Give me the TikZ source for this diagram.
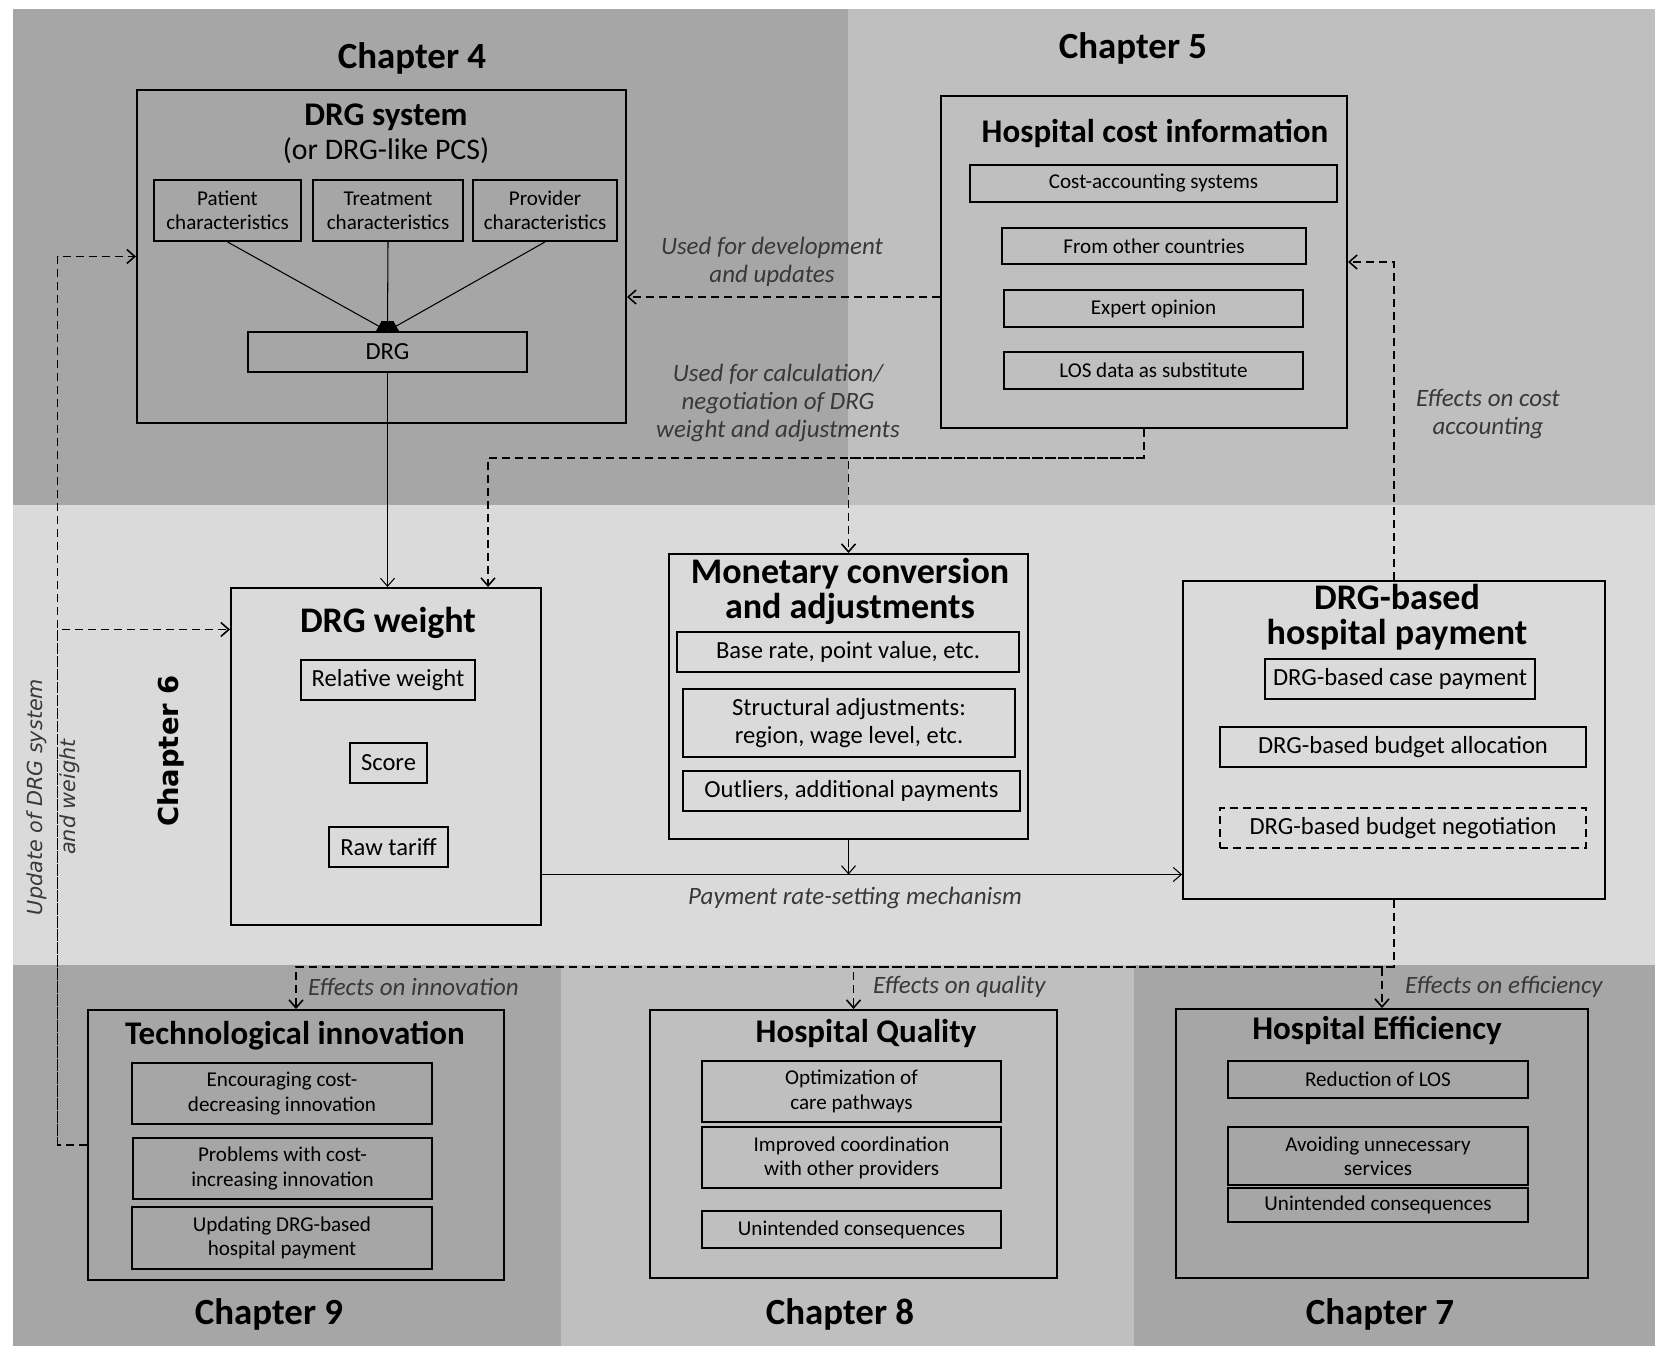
\documentclass[tikz,border=0pt]{standalone}
\usepackage{fontspec}
\setmainfont{Carlito}
\newfontfamily\widefont{DejaVu Sans}
\usetikzlibrary{arrows.meta}
\usetikzlibrary{fit}
\definecolor{bgdark}{gray}{0.65}
\definecolor{bgmid}{gray}{0.75}
\definecolor{bglight}{gray}{0.855}
\definecolor{labelgray}{gray}{0.22}

\tikzset{
  bigbox/.style={draw=black,line width=1.1pt,inner sep=0pt},
  subbox/.style={draw=black,line width=1.1pt,inner sep=0pt},
  smalltext/.style={align=center,font=\fontsize{12}{13.8}\selectfont},
  midtext/.style={align=center,font=\fontsize{14}{16}\selectfont},
  boxtitle/.style={font=\fontsize{18.8}{20}\selectfont\bfseries,align=center},
  bigtitle/.style={font=\fontsize{20.5}{20}\selectfont\bfseries,align=center},
  chapter/.style={font=\fontsize{21}{24}\selectfont\bfseries},
  flowlabel/.style={font=\fontsize{14.2}{16.2}\selectfont\itshape,text=labelgray,align=center},
  dasharrow/.style={line width=0.9pt,dash pattern=on 1.6mm off 1mm,-{Straight Barb[length=1.6mm,width=2.8mm]}},
  solidarrow/.style={line width=0.6pt,-{Straight Barb[length=1.6mm,width=2.8mm]}},
  convtip/.style={line width=0.6pt,-{Triangle[length=2mm,width=2.4mm]}}
}

\begin{document}
\begin{tikzpicture}[x=0.2mm,y=-0.2mm]

% chapter areas
\useasboundingbox (0,0) rectangle (1655,1346);
\fill[bgdark] (13,9) rectangle (848,505);
\fill[bgmid] (848,9) rectangle (1655,505);
\fill[bglight] (13,505) rectangle (1655,965);
\fill[bgdark] (13,965) rectangle (561,1346);
\fill[bgmid] (561,965) rectangle (1134,1346);
\fill[bgdark] (1134,965) rectangle (1655,1346);

% chapter titles
\node[chapter] (chap4) at (412,58) {Chapter 4};
\node[chapter] (chap5) at (1133,48) {Chapter 5};
\node[chapter] (chap9) at (269,1314) {Chapter 9};
\node[chapter] (chap8) at (840,1314) {Chapter 8};
\node[chapter] (chap7) at (1380,1314) {Chapter 7};
\node[rotate=90,font=\widefont\bfseries\fontsize{15.6}{18}\selectfont] (chap6) at (171,751) {Chapter 6};

% DRG system
\node[bigbox,fit={(137,90) (626,423)}] (drgsys) {};
\node[boxtitle] (drgsystitle) at (386,117) {DRG system};
\node[font=\fontsize{17}{19}\selectfont] (drgpcs) at (386,151) {(or DRG-like PCS)};
\node[subbox,fit={(154,180) (301,241)},label={[smalltext]center:{Patient\\characteristics}}] (patient) {};
\node[subbox,fit={(313,180) (463,241)},label={[smalltext]center:{Treatment\\characteristics}}] (treatment) {};
\node[subbox,fit={(473,180) (617,241)},label={[smalltext]center:{Provider\\characteristics}}] (provider) {};
\node[subbox,fit={(248,332) (527,372)},label={[midtext]center:DRG}] (drg) {};
\draw[convtip] (patient.south) -- (drg.north);
\draw[convtip] (treatment.south) -- (drg.north);
\draw[convtip] (provider.south) -- (drg.north);

% hospital cost information
\node[bigbox,fit={(941,96) (1347,428)}] (cost) {};
\node[boxtitle] (costtitle) at (1155,133) {Hospital cost information};
\node[subbox,fit={(970,165) (1337,202)},label={[smalltext]center:Cost-accounting systems}] (costacc) {};
\node[subbox,fit={(1002,228) (1306,264)},label={[smalltext]center:From other countries}] (othercountry) {};
\node[subbox,fit={(1004,290) (1303,327)},label={[smalltext]center:Expert opinion}] (expert) {};
\node[subbox,fit={(1004,352) (1303,389)},label={[smalltext]center:LOS data as substitute}] (losdata) {};

% DRG weight
\node[bigbox,fit={(231,588) (541,925)}] (drgw) {};
\node[bigtitle] (drgwtitle) at (388,623) {DRG weight};
\node[subbox,fit={(301,660) (475,700)},label={[midtext]center:Relative weight}] (relw) {};
\node[subbox,fit={(350,743) (427,783)},label={[midtext]center:Score}] (score) {};
\node[subbox,fit={(329,827) (448,867)},label={[midtext]center:Raw tariff}] (rawtariff) {};

% monetary conversion
\node[bigbox,fit={(669,554) (1028,839)}] (monetary) {};
\node[bigtitle] (monetarytitle) at (850,591) {Monetary conversion\\and adjustments};
\node[subbox,fit={(677,632) (1019,672)},label={[midtext]center:{Base rate, point value, etc.}}] (baserate) {};
\node[subbox,fit={(683,689) (1015,757)},label={[midtext]center:{Structural adjustments:\\region, wage level, etc.}}] (structadj) {};
\node[subbox,fit={(683,771) (1020,811)},label={[midtext]center:{Outliers, additional payments}}] (outliers) {};

% DRG-based hospital payment
\node[bigbox,fit={(1183,581) (1605,899)}] (pay) {};
\node[bigtitle] (paytitle) at (1397,617) {DRG-based\\hospital payment};
\node[subbox,fit={(1265,659) (1535,699)},label={[midtext]center:DRG-based case payment}] (casepay) {};
\node[subbox,fit={(1220,727) (1586,767)},label={[midtext]center:DRG-based budget allocation}] (budgetalloc) {};
\node[subbox,dash pattern=on 1.6mm off 1mm,fit={(1220,808) (1586,848)},label={[midtext]center:DRG-based budget negotiation}] (budgetneg) {};

% technological innovation
\node[bigbox,fit={(88,1010) (504,1280)}] (tech) {};
\node[boxtitle] (techtitle) at (295,1036) {Technological innovation};
\node[subbox,fit={(132,1063) (432,1124)},label={[smalltext]center:{Encouraging cost-\\decreasing innovation}}] (encourage) {};
\node[subbox,fit={(133,1138) (432,1199)},label={[smalltext]center:{Problems with cost-\\increasing innovation}}] (problems) {};
\node[subbox,fit={(132,1207) (432,1269)},label={[smalltext]center:{Updating DRG-based\\hospital payment}}] (updating) {};

% hospital quality
\node[bigbox,fit={(650,1010) (1057,1278)}] (quality) {};
\node[boxtitle] (qualitytitle) at (866,1033) {Hospital Quality};
\node[subbox,fit={(702,1061) (1001,1122)},label={[smalltext]center:{Optimization of\\care pathways}}] (pathways) {};
\node[subbox,fit={(702,1127) (1001,1188)},label={[smalltext]center:{Improved coordination\\with other providers}}] (coord) {};
\node[subbox,fit={(702,1211) (1001,1248)},label={[smalltext]center:Unintended consequences}] (qualunint) {};

% hospital efficiency
\node[bigbox,fit={(1176,1009) (1588,1278)}] (eff) {};
\node[boxtitle] (efftitle) at (1377,1030) {Hospital Efficiency};
\node[subbox,fit={(1228,1061) (1528,1098)},label={[smalltext]center:Reduction of LOS}] (los) {};
\node[subbox,fit={(1228,1127) (1528,1185)},label={[smalltext]center:{Avoiding unnecessary\\services}}] (avoid) {};
\node[subbox,fit={(1228,1188) (1528,1222)},label={[smalltext]center:Unintended consequences}] (effunint) {};

% DRG to weight, cost information back to DRG system
\draw[solidarrow] (drg.south) -- (drg.south |- drgw.north);
\draw[dasharrow] ([yshift=-7mm]cost.west) -- ([yshift=-7mm]cost.west -| drgsys.east);
\coordinate (wtin) at ([xshift=20.4mm]drgw.north);
\draw[dasharrow] (cost.south) -- ++(0,29) -| (wtin);
\draw[dasharrow] (cost.south) ++(0,29) -| (monetary.north);

% update loop on the left
\coordinate (updbus) at ([xshift=-5.9mm]tech.west);
\draw[dasharrow] (tech.west) -- (updbus) |- (drgsys.west);
\draw[dasharrow] (updbus) |- ([yshift=25.4mm]drgw.west);

% payment rate-setting
\coordinate (rateout) at ([yshift=-23.6mm]drgw.east);
\draw[solidarrow] (rateout) -- (rateout -| pay.west);
\draw[solidarrow] (monetary.south) -- (monetary.south |- rateout);

% effects of payment
\draw[dasharrow] (pay.south) -- ++(0,67) -| (tech.north);
\draw[dasharrow] (pay.south) ++(0,67) -| (quality.north);
\draw[dasharrow] (pay.south) ++(0,67) -| (eff.north);
\draw[dasharrow] (pay.north) |- (cost.east);

% labels
\node[flowlabel] (usedev) at (772,262) {Used for development\\and updates};
\node[flowlabel] (usecalc) at (778,403) {Used for calculation/\\negotiation of DRG\\weight and adjustments};
\node[flowlabel] (costacct) at (1488,414) {Effects on cost\\accounting};
\node[flowlabel] (ratemech) at (855,898) {Payment rate-setting mechanism};
\node[flowlabel,anchor=west] (effinno) at (302,987) {Effects on innovation};
\node[flowlabel,anchor=west] (effqual) at (867,987) {Effects on quality};
\node[flowlabel,anchor=west] (effeff) at (1399,987) {Effects on efficiency};
\node[rotate=90,align=center,text=labelgray,font=\widefont\itshape\fontsize{11.8}{18.8}\selectfont] (updlabel) at (53,797) {Update of DRG system\\and weight};

\end{tikzpicture}
\end{document}
